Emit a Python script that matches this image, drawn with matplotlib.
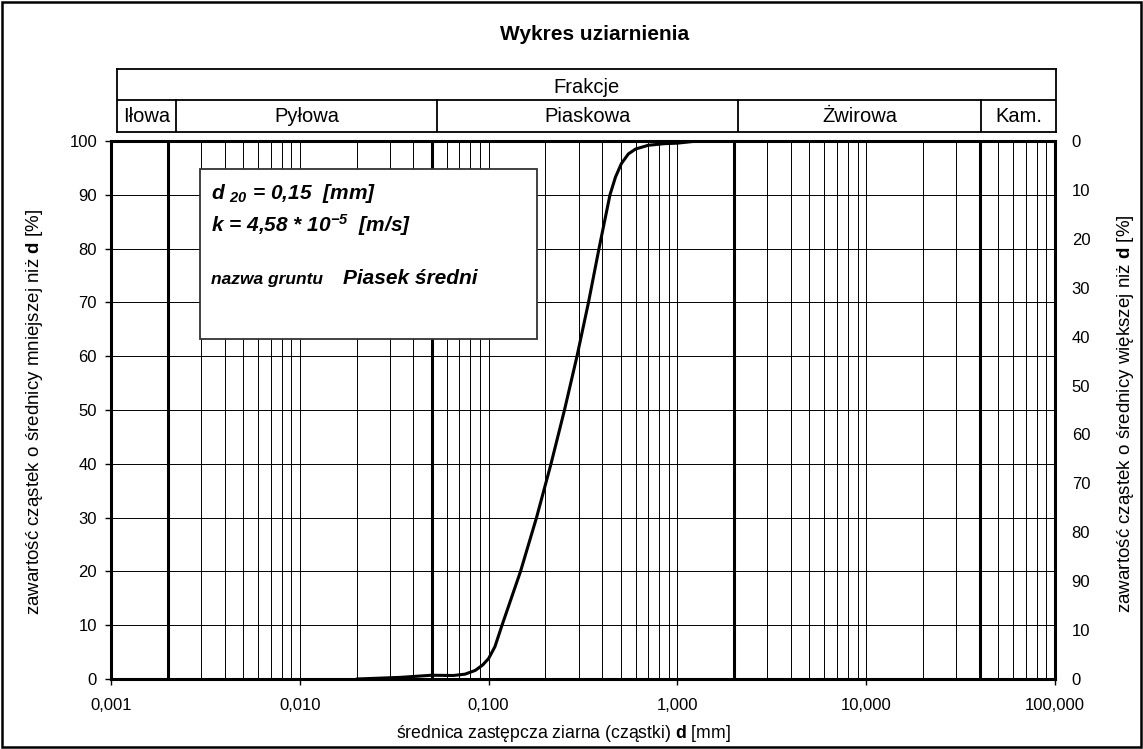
import matplotlib
matplotlib.use('Agg')
import matplotlib.pyplot as plt
from matplotlib.patches import Rectangle
from matplotlib.ticker import LogLocator, NullFormatter, FixedLocator, FixedFormatter

plt.rcParams['font.family'] = ['Liberation Sans', 'DejaVu Sans']
plt.rcParams['mathtext.fontset'] = 'custom'
plt.rcParams['mathtext.rm'] = 'Liberation Sans'
plt.rcParams['mathtext.bf'] = 'Liberation Sans:bold'
plt.rcParams['mathtext.it'] = 'Liberation Sans:italic'
plt.rcParams['mathtext.bfit'] = 'Liberation Sans:bold:italic'

# ---------------- data ----------------
diameter_mm = [0.02, 0.034, 0.05, 0.065, 0.075, 0.085, 0.093, 0.1, 0.108, 0.1178,
               0.1476, 0.1794, 0.2141, 0.2523, 0.2939, 0.3381, 0.3843, 0.411,
               0.4395, 0.47, 0.505, 0.55, 0.6, 0.7, 0.85, 1.0, 1.2, 1.6, 4.0]
passing_pct = [0.0, 0.3, 0.7, 0.65, 0.9, 1.6, 2.6, 3.8, 6.0, 10.0,
               20.0, 30.0, 40.0, 50.0, 60.0, 70.0, 80.0, 85.0,
               90.0, 93.3, 95.8, 97.6, 98.5, 99.2, 99.5, 99.6, 99.9, 100.0, 100.0]

x_ticks = [0.001, 0.01, 0.1, 1, 10, 100]
x_tick_labels = ['0,001', '0,010', '0,100', '1,000', '10,000', '100,000']
y_ticks = list(range(0, 101, 10))
right_ticks = list(range(0, 111, 10))
right_tick_labels = ['0', '10', '20', '30', '40', '50', '60', '70', '80', '90', '10', '0']
fraction_bounds = [0.002, 0.05, 2, 40]
fraction_names = ['Iłowa', 'Pyłowa', 'Piaskowa', 'Żwirowa', 'Kam.']

title = 'Wykres uziarnienia'
header_title = 'Frakcje'
xlabel = r'średnica zastępcza ziarna (cząstki) $\mathbf{d}$ [mm]'
ylabel_left = r'zawartość cząstek o średnicy mniejszej niż $\mathbf{d}$ [%]'
ylabel_right = r'zawartość cząstek o średnicy większej niż $\mathbf{d}$ [%]'

# ---------------- layout ----------------
W, H = 1143, 749
fig = plt.figure(figsize=(W / 100, H / 100), dpi=100)


def fx(px):
    return px / W


def fy(py):
    return 1 - py / H


L, R, T, B = 111, 1055, 141, 679
ax = fig.add_axes([fx(L), fy(B), (R - L) / W, (B - T) / H])
ax.set_xscale('log')
ax.set_xlim(0.001, 100)
ax.set_ylim(0, 100)

ax.xaxis.set_major_locator(FixedLocator(x_ticks))
ax.xaxis.set_major_formatter(FixedFormatter(x_tick_labels))
ax.xaxis.set_minor_locator(LogLocator(base=10, subs=range(2, 10), numticks=20))
ax.xaxis.set_minor_formatter(NullFormatter())
ax.set_yticks(y_ticks)
ax.tick_params(axis='x', which='major', direction='out', length=4, width=1,
               pad=10, labelsize=12, colors='black')
ax.tick_params(axis='x', which='minor', length=0)
ax.tick_params(axis='y', direction='out', length=4, width=1, pad=6, labelsize=12)

ax.grid(True, which='both', axis='x', color='black', lw=0.7)
ax.grid(True, which='major', axis='y', color='black', lw=0.7)
ax.set_axisbelow(True)
for b in fraction_bounds:
    ax.axvline(b, color='black', lw=2.2, zorder=1.5)
for s in ax.spines.values():
    s.set_linewidth(2.2)

ax.plot(diameter_mm, passing_pct, color='black', lw=2.2, zorder=3,
        solid_joinstyle='round', solid_capstyle='round')

ax2 = ax.twinx()
ax2.set_ylim(110, 0)
ax2.yaxis.set_major_locator(FixedLocator(right_ticks))
ax2.yaxis.set_major_formatter(FixedFormatter(right_tick_labels))
ax2.tick_params(axis='y', length=0, pad=12, labelsize=12)
for s in ax2.spines.values():
    s.set_visible(False)

# ---------------- header table ----------------
HL, HR, HT, HM, HB = 117, 1056, 69, 100, 132
hx = fig.add_axes([fx(HL), fy(HB), (HR - HL) / W, (HB - HT) / H])
hx.set_xlim(0, 1)
hx.set_ylim(0, 1)
hx.set_xticks([])
hx.set_yticks([])
for s in hx.spines.values():
    s.set_linewidth(1.3)
mid = (HB - HM) / (HB - HT)
hx.axhline(mid, color='black', lw=1.3)
col_edges_px = [HL, 176, 437, 738, 981, HR]
col_edges = [(p - HL) / (HR - HL) for p in col_edges_px]
for e in col_edges[1:-1]:
    hx.plot([e, e], [0, mid], color='black', lw=1.3)
hx.text(0.5, (HB - 93) / (HB - HT), header_title, ha='center', va='baseline', fontsize=14.5)
for i, name in enumerate(fraction_names):
    cx = (col_edges[i] + col_edges[i + 1]) / 2
    hx.text(cx, (HB - 122.5) / (HB - HT), name, ha='center', va='baseline', fontsize=14.5)

# ---------------- titles / labels ----------------
fig.text(fx(595), fy(35), title, ha='center', va='center', fontsize=15, fontweight='bold')
fig.text(fx(563), fy(733), xlabel, ha='center', va='center', fontsize=12.7)
fig.text(fx(35), fy(412), ylabel_left, ha='center', va='center', rotation=90, fontsize=13.5)
fig.text(fx(1125), fy(414), ylabel_right, ha='center', va='center', rotation=90, fontsize=13.5)

# ---------------- info box ----------------
box = Rectangle((fx(200), fy(339)), (537 - 200) / W, (339 - 169) / H,
                transform=fig.transFigure, facecolor='white', edgecolor='#333333',
                lw=1.3, zorder=5)
fig.add_artist(box)
kw = dict(fontweight='bold', style='italic', ha='left', va='baseline', zorder=6)
fig.text(fx(211), fy(199), r'd $_{\mathbfit{20}}$ = 0,15  [mm]', fontsize=15, **kw)
fig.text(fx(211), fy(232), r'k = 4,58 * 10$^{\mathbfit{-5}}$  [m/s]', fontsize=15, **kw)
fig.text(fx(211), fy(284), 'nazwa gruntu', fontsize=12.5, **kw)
fig.text(fx(343), fy(284), 'Piasek średni', fontsize=15, **kw)

# outer border
border = Rectangle((fx(2), fy(747)), (1141 - 2) / W, (747 - 2) / H,
                   transform=fig.transFigure, facecolor='none', edgecolor='black',
                   lw=1.8, zorder=10)
fig.add_artist(border)

fig.savefig('out.png', dpi=100)
